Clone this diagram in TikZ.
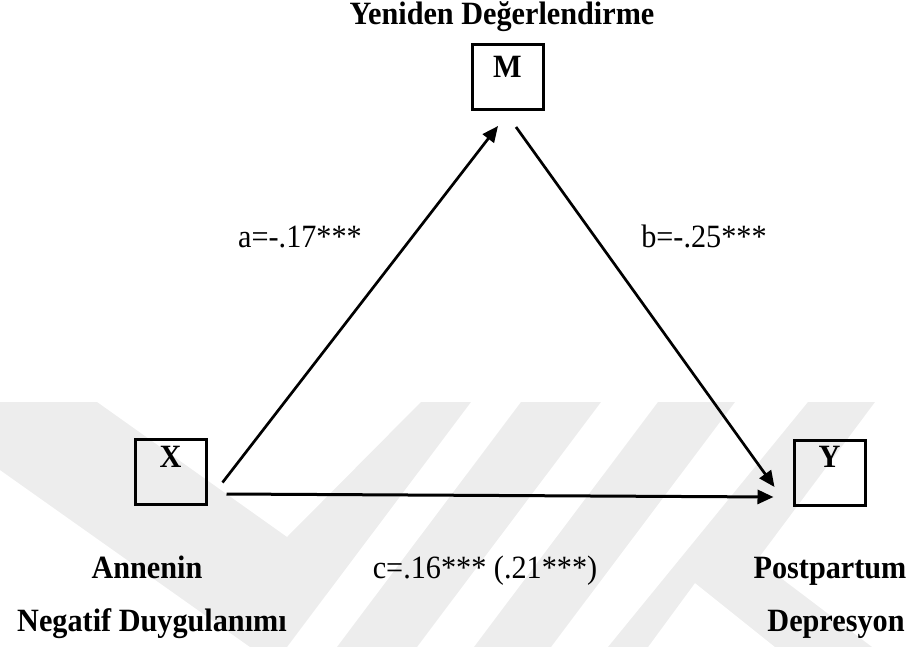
\documentclass[tikz,border=0pt]{standalone}
\usepackage{fontspec}
\setmainfont{Liberation Serif}[FakeStretch=0.93]
\usepackage{tikz}
\usetikzlibrary{arrows.meta,calc,positioning}
\tikzset{
  line cap=butt,
  line join=miter,
  txt/.style={font=\fontsize{32.5}{38}\selectfont, inner sep=0pt, anchor=base},
  varname/.style={txt, font=\fontsize{32.5}{38}\selectfont\bfseries},
  varbox/.style={draw, line width=3pt, minimum width=71pt, minimum height=65pt, inner sep=0pt},
  effect/.style={line width=2.7pt, -{Triangle[length=16pt,width=14pt]}},
  wmark/.style={fill=black!7, draw=none}
}

\begin{document}
\begin{tikzpicture}[x=1pt, y=-1pt]
    \useasboundingbox (0,0) rectangle (912,647);

    % faint watermark behind the model
    \fill[wmark] (0,402) -- (97,402) -- (287,537) -- (421,402) -- (471,402)
        -- (287,647) -- (250,647) -- (0,470) -- cycle;
    \fill[wmark] (521,402) -- (601,402) -- (417,647) -- (337,647) -- cycle;
    \fill[wmark] (658,402) -- (735,402) -- (551,647) -- (474,647) -- cycle;
    \fill[wmark] (808,402) -- (875,402) -- (757,560) -- (872,647) -- (775,647)
        -- (695,583) -- (648,647) -- (608,647) -- cycle;

    % variables
    \node[varbox, label={[varname, anchor=north, yshift=-13pt]north:M}] (M) at (507.5,77) {};
    \node[varbox, label={[varname, anchor=north, yshift=-9pt]north:X}] (X) at (170.5,471.5) {};
    \node[varbox, label={[varname, anchor=north, yshift=-7pt]north:Y}] (Y) at (829.5,473) {};

    \node[varname] (Mname) at (502,25) {Yeniden Değerlendirme};
    \node[varname] (Xname1) at (147,578) {Annenin};
    \node[varname] (Xname2) at (152,631) {Negatif Duygulanımı};
    \node[varname] (Yname1) at (830,578) {Postpartum};
    \node[varname] (Yname2) at (836,631) {Depresyon};

    % effects
    \draw[effect] ($(X.south east)+(15,-23)$) -- ($(M.south)+(-9.5,15)$);
    \draw[effect] ($(M.south)+(8.5,16)$) -- ($(Y.west)+(-18,14)$);
    \draw[effect, line width=3pt] ($(X.east)+(19,22.5)$) -- ($(Y.west)+(-19,24)$);

    \node[txt] (alab) at (300,247) {a=-.17***};
    \node[txt] (blab) at (704,247) {b=-.25***};
    \node[txt] (clab) at (485,578) {c=.16*** (.21***)};
\end{tikzpicture}
\end{document}
